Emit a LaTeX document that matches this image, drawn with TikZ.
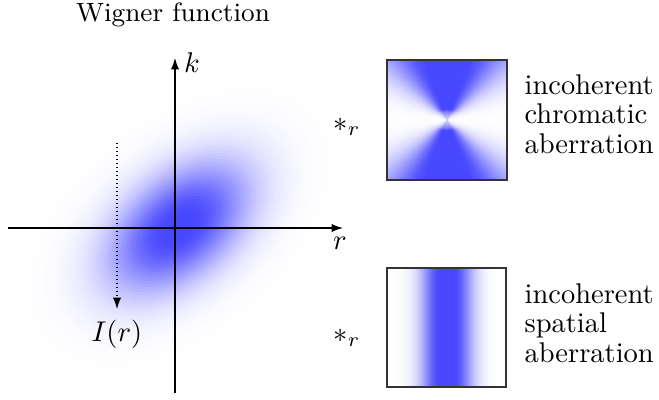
\documentclass[tikz,border=0pt]{standalone}
\usetikzlibrary{arrows.meta}
\definecolor{wblue}{RGB}{72,72,255}
\tikzset{
  axisline/.style={line width=0.4pt,-{Latex[length=4pt,width=2.9pt]}},
  dotarrow/.style={line width=0.4pt,densely dotted,-{Latex[length=4pt,width=2.9pt]}},
  lbl/.style={inner sep=0pt,font=\fontsize{10}{12}\selectfont},
  sidetext/.style={inner sep=0pt,anchor=west,align=left,font=\fontsize{10}{10.3}\selectfont},
  framebox/.style={draw=black!80,line width=0.4pt},
}
\begin{document}
\begin{tikzpicture}[x=0.3509pt,y=-0.3509pt]
\useasboundingbox (0,0) rectangle (659,399);
% ---- blob (Wigner function)
\begin{scope}[shift={(179,227)},rotate=40]
  \foreach \i in {50,49,...,1}{
    \pgfmathsetmacro\s{3.6*\i/50}
    \pgfmathsetmacro\d{max(\s-0.3,0)}
    \pgfmathsetmacro\f{100*exp(-\d*\d/2)}
    \fill[wblue!\f!white] (0,0) ellipse ({3.6*50*\i/50} and {3.6*30*\i/50});
  }
\end{scope}
% ---- axes
\coordinate (xl) at (8,228);
\coordinate (xr) at (343,228);
\coordinate (yb) at (175,393);
\coordinate (yt) at (175,58);
\draw[axisline] (xl) -- (xr);
\draw[axisline] (yb) -- (yt);
\node[lbl] (klab) at (192,63) {$k$};
\node[lbl] (rlab) at (340,243) {$r$};
\node[lbl,font=\fontsize{9.3}{11}\selectfont] (title) at (173,15) {Wigner function};
% ---- dotted arrow
\coordinate (ds) at (117,143);
\node[lbl] (Ir) at (117,334) {$I(r)$};
\draw[dotarrow] (ds) -- (117,309);
% ---- star labels
\node[lbl] (s1) at (347,127) {$*_r$};
\node[lbl] (s2) at (347,338) {$*_r$};
% ---- box 1 : bowtie
\begin{scope}
  \clip (387,60) rectangle (507,180);
  \fill[white] (387,60) rectangle (507,180);
  \foreach \t in {90,88,...,0}{
    \pgfmathsetmacro\d{max(\t-20,0)}
    \pgfmathsetmacro\f{100*exp(-\d*\d/(2*22*22))}
    \fill[wblue!\f!white] (447,120) -- +(90-\t:100) arc[start angle=90-\t,end angle=90+\t,radius=100] -- cycle;
    \fill[wblue!\f!white] (447,120) -- +(270-\t:100) arc[start angle=270-\t,end angle=270+\t,radius=100] -- cycle;
  }
  \foreach \i in {1,...,9}{
    \fill[white,fill opacity=0.14] (447,120) ellipse ({2*\i} and {1.1*\i});
  }
\end{scope}
\node[framebox,minimum width=120*0.3509pt,minimum height=120*0.3509pt,inner sep=0pt] (box1) at (447,120) {};
% ---- box 2 : vertical band
\begin{scope}
  \clip (387,268) rectangle (506,387);
  \foreach \w in {61,60,...,0}{
    \pgfmathsetmacro\d{max(\w-7,0)}
    \pgfmathsetmacro\f{100*exp(-\d*\d/(2*14*14))}
    \fill[wblue!\f!white] (447-\w,268) rectangle (447+\w,387);
  }
\end{scope}
\node[framebox,minimum width=119*0.3509pt,minimum height=119*0.3509pt,inner sep=0pt] (box2) at (446.5,327.5) {};
% ---- side texts
\node[sidetext] (t1) at (524,114) {incoherent\\chromatic\\aberration};
\node[sidetext] (t2) at (524,323) {incoherent\\spatial\\aberration};
\end{tikzpicture}
\end{document}
